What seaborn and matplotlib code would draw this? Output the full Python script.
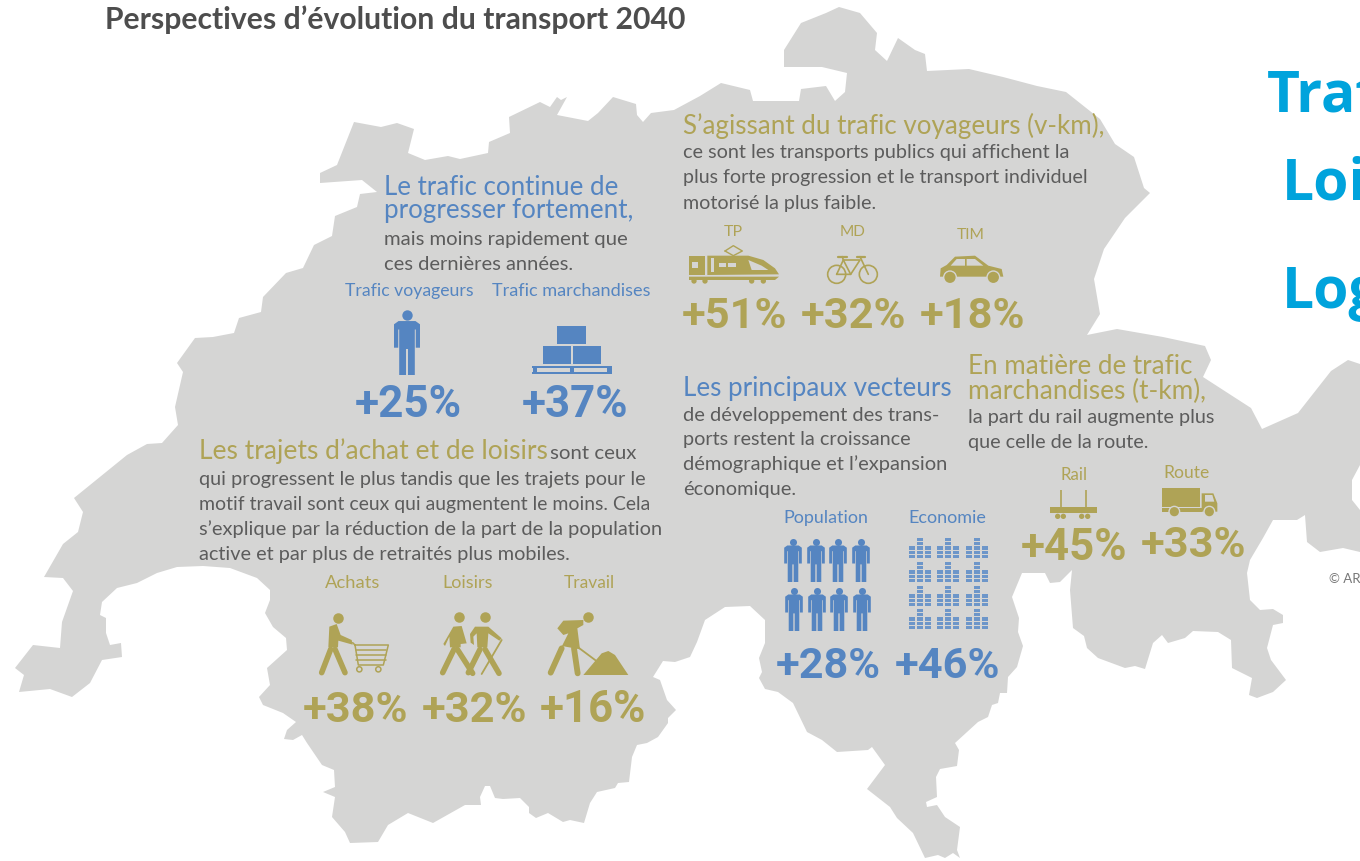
import matplotlib
matplotlib.use("Agg")
import matplotlib.pyplot as plt
import seaborn as sns
from matplotlib.patches import Polygon, Circle, Rectangle

# Data
blue_labels = ['Trafic voyageurs', 'Trafic marchandises', 'Population', 'Economie']
blue_values = [25, 37, 28, 46]
motif_labels = ['Achats', 'Loisirs', 'Travail']
motif_values = [38, 32, 16]
mode_labels = ['TP', 'MD', 'TIM']
mode_values = [51, 32, 18]
freight_labels = ['Rail', 'Route']
freight_values = [45, 33]

# Colours
MAP = '#d5d5d4'
BLUE = '#5585c1'
GOLD = '#afa356'
GREY = '#5c5c5c'
SKY = '#00a3dc'

# Map outline
outline = [
    (15, 668), (33, 645), (60, 648), (62, 622), (73, 591), (63, 578), (44, 577), (63, 544), (78, 532), (83, 512),
    (74, 498), (127, 455), (147, 444), (162, 443), (178, 425), (175, 407), (183, 372), (177, 363), (195, 338),
    (213, 337), (234, 333), (239, 318), (261, 312), (263, 297), (286, 273), (303, 268), (314, 245), (332, 236),
    (335, 216), (357, 207), (360, 194), (377, 192), (362, 180), (320, 183), (320, 173), (337, 165), (354, 122),
    (381, 127), (397, 123), (414, 129), (408, 153), (425, 160), (448, 156), (460, 159), (488, 153), (489, 142),
    (510, 133), (509, 117), (540, 102), (550, 107), (557, 97), (561, 100), (567, 97), (557, 115), (588, 121),
    (598, 113), (613, 97), (636, 104), (637, 115), (643, 122), (651, 113), (674, 110), (700, 96), (721, 83),
    (750, 90), (753, 101), (799, 101), (801, 89), (826, 86), (835, 101), (845, 92), (847, 73), (822, 67), (784, 67),
    (784, 50), (801, 23), (826, 13), (839, 7), (860, 13), (877, 33), (875, 50), (887, 61), (898, 38), (915, 50),
    (925, 54), (927, 71), (969, 69), (1003, 77), (1037, 86), (1066, 92), (1100, 119), (1115, 144), (1134, 157),
    (1144, 188), (1150, 193), (1125, 218), (1104, 249), (1094, 279), (1100, 314), (1087, 335), (1117, 329),
    (1163, 337), (1205, 346), (1211, 360), (1203, 377), (1251, 408), (1262, 429), (1298, 413), (1331, 371),
    (1348, 360), (1360, 364), (1360, 465), (1352, 480), (1352, 500), (1360, 510), (1360, 552), (1343, 548),
    (1320, 552), (1307, 542), (1305, 515), (1297, 520), (1273, 520), (1263, 538), (1250, 560), (1247, 573),
    (1250, 600), (1260, 610), (1273, 609), (1283, 615), (1283, 623), (1273, 625), (1267, 648), (1271, 660),
    (1286, 680), (1273, 692), (1257, 698), (1249, 695), (1252, 678), (1232, 668), (1231, 640), (1218, 632),
    (1193, 631), (1185, 638), (1168, 643), (1162, 635), (1153, 643), (1145, 669), (1135, 666), (1125, 668),
    (1098, 658), (1087, 648), (1084, 636), (1073, 628), (1070, 590), (1072, 570), (1060, 582), (1050, 583),
    (1045, 573), (1022, 573), (1012, 597), (1019, 618), (1018, 632), (1023, 646), (1017, 667), (1008, 677),
    (1007, 693), (1000, 693), (998, 703), (992, 705), (988, 717), (978, 722), (955, 743), (959, 750), (957, 766),
    (940, 769), (936, 777), (937, 797), (926, 802), (927, 807), (937, 805), (945, 817), (960, 827), (957, 850),
    (960, 858), (953, 853), (945, 858), (938, 855), (925, 858), (913, 833), (897, 818), (890, 807), (867, 789),
    (885, 765), (872, 747), (868, 750), (837, 752), (822, 740), (807, 732), (793, 703), (778, 692), (765, 689),
    (759, 678), (762, 672), (759, 658), (765, 643), (765, 620), (750, 606), (725, 607), (705, 620), (697, 642),
    (690, 657), (675, 662), (663, 661), (653, 677), (660, 680), (667, 700), (676, 710), (668, 718), (668, 723),
    (658, 737), (647, 743), (637, 745), (632, 757), (629, 782), (618, 783), (615, 788), (597, 792), (590, 803),
    (584, 823), (570, 820), (563, 822), (548, 813), (536, 818), (529, 813), (529, 807), (520, 798), (503, 799),
    (495, 798), (490, 786), (485, 786), (480, 797), (481, 805), (465, 805), (433, 823), (408, 813), (388, 825),
    (378, 842), (350, 843), (345, 832), (332, 817), (335, 797), (323, 792), (335, 787), (334, 770), (322, 765),
    (307, 743), (302, 735), (293, 740), (284, 739), (287, 730), (296, 722), (283, 713), (263, 705), (259, 697),
    (270, 685), (267, 668), (287, 650), (286, 638), (273, 627), (265, 613), (270, 600), (270, 590), (257, 578),
    (230, 568), (203, 566), (177, 567), (157, 573), (137, 583), (117, 588), (102, 602), (100, 615), (106, 618),
    (106, 633), (110, 645), (121, 643), (122, 657), (102, 660), (90, 683), (72, 697), (50, 689), (19, 692), (24, 675),
]

sns.set_theme(style="white")
plt.rcParams['font.family'] = ['Lato', 'DejaVu Sans']

fig = plt.figure(figsize=(13.6, 8.61), dpi=100, facecolor='white')
ax = fig.add_axes([0, 0, 1, 1])
ax.add_patch(Polygon(outline, closed=True, fc=MAP, ec='none', zorder=1))


# Text with its width fitted to the picture
def txt(x0, x1, y, s, color=GREY, size=13, weight='normal', family=None):
    t = ax.text(x0, y, s, color=color, fontsize=size, fontweight=weight, va='baseline', ha='left', zorder=5)
    if family:
        t.set_family(family)
    w = t.get_window_extent(fig.canvas.get_renderer()).width
    t.set_fontsize(size * (x1 - x0) / w)
    return t


def pct(x0, x1, y, v, color):
    txt(x0, x1, y, '+%d%%' % v, color=color, size=30, weight='bold', family='Roboto')


# Icon helpers, u/v are crop pixels of a 3x view with origin x0, y0
def to_px(pts, x0, y0):
    return [(x0 + u / 3, y0 + v / 3) for u, v in pts]


def poly(pts, x0, y0, color, z=4):
    ax.add_patch(Polygon(to_px(pts, x0, y0), closed=True, fc=color, ec='none', zorder=z))


def stroke(pts, x0, y0, color, lw=1.2, cap='round'):
    p = to_px(pts, x0, y0)
    ax.plot([a for a, b in p], [b for a, b in p], color=color, lw=lw, solid_capstyle=cap, zorder=4)


def disc(u, v, r, x0, y0, color):
    ax.add_patch(Circle((x0 + u / 3, y0 + v / 3), r / 3, fc=color, ec='none', zorder=4))


def heads(xs, ys, d, color):
    sns.scatterplot(x=xs, y=ys, s=(d * 0.72) ** 2, color=color, linewidth=0, ax=ax, legend=False, zorder=4)


def person(xc, top, h, color):
    body = [(-.13, .17), (.13, .17), (.20, .22), (.20, .58), (.135, .58), (.135, .30), (.12, .30), (.12, 1),
            (.015, 1), (.015, .60), (-.015, .60), (-.015, 1), (-.12, 1), (-.12, .30), (-.135, .30), (-.135, .58),
            (-.20, .58), (-.20, .22)]
    ax.add_patch(Polygon([(xc + a * h, top + b * h) for a, b in body], closed=True, fc=color, ec='none', zorder=4))
    heads([xc], [top + .08 * h], .16 * h, color)


def coins(xc, yb, color):
    for dx, n in [(-8, 3), (0, 5), (8, 3)]:
        for i in range(n):
            ax.add_patch(Rectangle((xc + dx - 3.2, yb - 3.2 - i * 4.2), 6.4, 3.2, fc=color, ec='none', zorder=4))


# Title and the clipped slide text on the right
txt(105, 686, 29, 'Perspectives d’évolution du transport 2040', color='#4d4d4d', size=20, weight='bold')
for x, y, s in [(1267, 112, 'Traf'), (1282, 200, 'Loi'), (1282, 308, 'Log')]:
    ax.text(x, y, s, color=SKY, fontsize=41, fontweight='bold', family='Open Sans', va='baseline', zorder=5)
ax.text(1329, 583, '© AR', color='#777777', fontsize=9.5, va='baseline', zorder=5)

# Block 1
txt(384, 617, 195, 'Le trafic continue de', BLUE, 18)
txt(384, 633, 218, 'progresser fortement,', BLUE, 18)
txt(384, 627, 245, 'mais moins rapidement que')
txt(384, 573, 270, 'ces dernières années.')
txt(345, 473, 296, blue_labels[0], BLUE, 12)
txt(492, 650, 296, blue_labels[1], BLUE, 12)
pct(355, 462, 417, blue_values[0], BLUE)
pct(522, 628, 417, blue_values[1], BLUE)
person(407, 310, 65, BLUE)
x0, y0 = 320, 270
for u0, v0, u1, v1 in [(712, 168, 797, 222), (668, 228, 752, 283), (760, 228, 842, 283), (636, 288, 875, 295),
                       (636, 305, 875, 313), (640, 288, 650, 313), (750, 288, 762, 313), (862, 288, 875, 313)]:
    poly([(u0, v0), (u1, v0), (u1, v1), (u0, v1)], x0, y0, BLUE)

# Block 2
txt(199, 546, 459, 'Les trajets d’achat et de loisirs', GOLD, 18)
txt(550, 636, 459, 'sont ceux')
txt(199, 647, 485, 'qui progressent le plus tandis que les trajets pour le')
txt(199, 648, 510, 'motif travail sont ceux qui augmentent le moins. Cela')
txt(199, 660, 535, 's’explique par la réduction de la part de la population')
txt(199, 569, 560, 'active et par plus de retraités plus mobiles.')
for (a, b), s in zip([(325, 380), (442, 492), (564, 615)], motif_labels):
    txt(a, b, 588, s, GOLD, 12)
for (a, b), v in zip([(303, 408), (422, 527), (540, 646)], motif_values):
    pct(a, b, 722, v, GOLD)

x0, y0 = 300, 570
# shopper
heads([x0 + 115 / 3, x0 + 477 / 3, x0 + 555 / 3, x0 + 863 / 3], [y0 + 143 / 3, y0 + 142 / 3, y0 + 142 / 3, y0 + 142 / 3], 10.5, GOLD)
poly([(88, 170), (110, 162), (122, 195), (155, 210), (158, 224), (115, 212), (114, 232), (85, 232)], x0, y0, GOLD)
stroke([(92, 238), (65, 308)], x0, y0, GOLD, 4.0)
stroke([(105, 238), (135, 308)], x0, y0, GOLD, 4.0)
stroke([(158, 218), (165, 225), (265, 225), (250, 285), (175, 285), (165, 225)], x0, y0, GOLD, 1.1)
for v in [240, 255, 270]:
    stroke([(168, v), (258, v)], x0, y0, GOLD, 1.1)
for u in [178, 235]:
    ax.add_patch(Circle((x0 + u / 3, y0 + 298 / 3), 2.6, fc='none', ec=GOLD, lw=1.1, zorder=4))
# hikers
poly([(460, 170), (485, 168), (500, 220), (482, 222), (482, 232), (450, 232), (448, 200), (435, 228), (430, 222)], x0, y0, GOLD)
stroke([(462, 238), (428, 308)], x0, y0, GOLD, 4.0)
stroke([(472, 238), (518, 310)], x0, y0, GOLD, 4.0)
poly([(525, 170), (565, 170), (605, 205), (598, 212), (565, 190), (562, 232), (532, 232), (530, 190), (520, 200),
      (522, 225), (512, 218), (510, 192)], x0, y0, GOLD)
stroke([(540, 238), (505, 308)], x0, y0, GOLD, 4.0)
stroke([(555, 238), (597, 310)], x0, y0, GOLD, 4.0)
stroke([(605, 210), (545, 312)], x0, y0, GOLD, 1.3)
# worker
poly([(790, 152), (850, 150), (850, 165), (832, 175), (840, 238), (786, 228), (805, 190), (790, 195), (772, 175)], x0, y0, GOLD)
stroke([(785, 235), (752, 308)], x0, y0, GOLD, 4.2)
stroke([(822, 235), (833, 310)], x0, y0, GOLD, 4.2)
stroke([(825, 225), (888, 272)], x0, y0, GOLD, 1.3)
poly([(850, 315), (905, 250), (925, 243), (945, 255), (985, 315)], x0, y0, GOLD)

# Block 3
txt(683, 1103, 134, 'S’agissant du trafic voyageurs (v-km),', GOLD, 18)
txt(683, 1070, 158, 'ce sont les transports publics qui affichent la')
txt(683, 1087, 183, 'plus forte progression et le transport individuel')
txt(683, 876, 209, 'motorisé la plus faible.')
for (a, b), y, s in zip([(724, 743), (840, 866), (957, 985)], [236, 236, 239], mode_labels):
    txt(a, b, y, s, GOLD, 11)
for (a, b), v in zip([(682, 787), (801, 906), (920, 1025)], mode_values):
    pct(a, b, 328, v, GOLD)

x0, y0 = 680, 215
# train
poly([(27, 122), (75, 122), (75, 180), (27, 180)], x0, y0, GOLD)
poly([(82, 122), (205, 122), (250, 135), (285, 160), (297, 178), (82, 180)], x0, y0, GOLD)
poly([(27, 185), (297, 185), (285, 195), (27, 195)], x0, y0, GOLD)
for u, v in [(42, 198), (75, 198), (215, 198), (250, 198)]:
    disc(u, v, 8, x0, y0, GOLD)
for w in [[(35, 142), (55, 142), (55, 160), (35, 160)], [(92, 130), (102, 130), (102, 172), (92, 172)],
          [(118, 145), (138, 145), (138, 157), (118, 157)], [(145, 145), (168, 145), (168, 157), (145, 157)],
          [(205, 135), (245, 152), (265, 165), (215, 165)]]:
    poly(w, x0, y0, MAP, z=4.5)
stroke([(135, 108), (160, 92), (187, 108), (160, 122), (135, 108)], x0, y0, GOLD, 1.0)
# bike
for u in [470, 565]:
    ax.add_patch(Circle((x0 + u / 3, y0 + 178 / 3), 9, fc='none', ec=GOLD, lw=1.2, zorder=4))
stroke([(470, 178), (490, 135), (540, 135), (512, 178), (470, 178)], x0, y0, GOLD, 1.2)
stroke([(490, 135), (512, 178)], x0, y0, GOLD, 1.2)
stroke([(540, 125), (565, 178)], x0, y0, GOLD, 1.2)
stroke([(475, 125), (500, 125)], x0, y0, GOLD, 1.6)
stroke([(530, 125), (555, 125)], x0, y0, GOLD, 1.6)
stroke([(487, 125), (490, 135)], x0, y0, GOLD, 1.2)
# car
poly([(780, 185), (782, 160), (800, 150), (825, 125), (885, 122), (925, 152), (965, 162), (970, 185)], x0, y0, GOLD)
for w in [[(812, 152), (830, 132), (855, 132), (855, 152)], [(860, 132), (885, 132), (910, 152), (860, 152)]]:
    poly(w, x0, y0, MAP, z=4.5)
for u in [810, 940]:
    ax.add_patch(Circle((x0 + u / 3, y0 + 187 / 3), 7, fc=MAP, ec='none', zorder=4.6))
    ax.add_patch(Circle((x0 + u / 3, y0 + 187 / 3), 5.6, fc=GOLD, ec='none', zorder=4.7))

# Block 4
txt(683, 951, 396, 'Les principaux vecteurs', BLUE, 18)
txt(683, 938, 421, 'de développement des trans-')
txt(683, 912, 445, 'ports restent la croissance')
txt(683, 946, 470, 'démographique et l’expansion')
txt(683, 795, 495, 'économique.')
txt(783, 868, 523, blue_labels[2], BLUE, 12)
txt(908, 986, 523, blue_labels[3], BLUE, 12)
pct(776, 881, 678, blue_values[2], BLUE)
pct(895, 1000, 678, blue_values[3], BLUE)
for xc in [793, 816, 838, 861]:
    person(xc, 538, 44, BLUE)
for xc in [794, 817, 839, 862]:
    person(xc, 587, 44, BLUE)
for yb in [558, 582, 606, 629]:
    for xc in [920, 948, 977]:
        coins(xc, yb, '#6d96c9')

# Block 5
txt(968, 1191, 374, 'En matière de trafic', GOLD, 18)
txt(968, 1205, 399, 'marchandises (t-km),', GOLD, 18)
txt(968, 1215, 423, 'la part du rail augmente plus')
txt(968, 1148, 448, 'que celle de la route.')
txt(1060, 1087, 480, freight_labels[0], GOLD, 11)
txt(1163, 1209, 478, freight_labels[1], GOLD, 11)
pct(1021, 1127, 560, freight_values[0], GOLD)
pct(1141, 1246, 557, freight_values[1], GOLD)

x0, y0 = 1010, 455
# rail wagon
poly([(120, 155), (262, 155), (262, 175), (120, 175)], x0, y0, GOLD)
stroke([(152, 105), (152, 155)], x0, y0, GOLD, 1.2, 'butt')
stroke([(227, 105), (227, 155)], x0, y0, GOLD, 1.2, 'butt')
for u in [143, 160, 215, 233]:
    disc(u, 184, 8, x0, y0, GOLD)
# truck
poly([(457, 98), (570, 98), (570, 155), (457, 155)], x0, y0, GOLD)
poly([(457, 158), (575, 158), (575, 170), (457, 170)], x0, y0, GOLD)
poly([(575, 115), (610, 115), (622, 145), (622, 170), (575, 170)], x0, y0, GOLD)
poly([(585, 120), (607, 120), (613, 140), (585, 140)], x0, y0, MAP, z=4.5)
for u in [493, 598]:
    ax.add_patch(Circle((x0 + u / 3, y0 + 170 / 3), 6, fc=MAP, ec='none', zorder=4.6))
    ax.add_patch(Circle((x0 + u / 3, y0 + 170 / 3), 4.6, fc=GOLD, ec='none', zorder=4.7))

ax.set_xlim(0, 1360)
ax.set_ylim(861, 0)
ax.set_axis_off()
sns.despine(ax=ax, left=True, bottom=True)

plt.savefig('out.png', dpi=100, facecolor='white')
